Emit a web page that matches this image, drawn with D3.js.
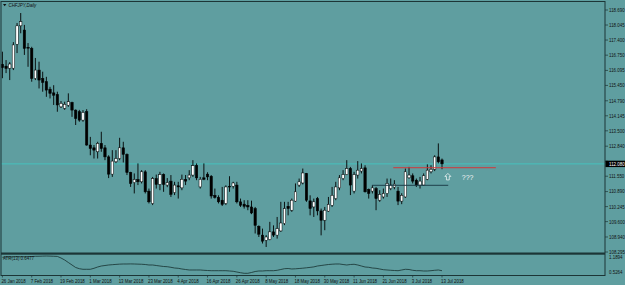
<!DOCTYPE html>
<html lang="en">
<head>
<meta charset="utf-8">
<title>CHFJPY Daily</title>
<script src="https://d3js.org/d3.v7.min.js"></script>
<style>
  body { margin: 0; background: #5f9ea0; }
  text { font-family: "Liberation Sans", Arial, sans-serif; font-size: 5.4px; fill: #111; }
</style>
</head>
<body>
<script>
// daily candles, 26 Jan 2018 .. 13 Jul 2018
var open = [116.36,116.28,116.19,116.19,117.22,118.01,117.83,117.09,117.04,115.75,
116.11,115.75,115.61,115.29,115.13,115.06,114.53,114.47,114.60,114.72,
114.39,114.32,113.96,114.32,112.89,112.77,112.60,112.96,112.77,112.38,
111.64,112.17,112.31,112.77,112.49,111.71,111.28,111.41,111.31,111.74,
110.91,110.38,111.45,111.20,111.62,111.17,111.34,110.85,111.14,111.05,
111.41,111.48,111.60,112.00,111.09,111.48,111.64,111.55,110.73,110.64,
110.52,110.38,111.12,111.12,111.17,110.45,110.35,110.30,110.23,110.16,
109.40,109.02,108.80,108.83,109.16,109.02,109.20,109.52,110.26,110.09,
110.48,111.17,111.26,111.67,110.49,110.23,110.59,110.06,109.66,110.05,
110.30,110.59,111.05,111.45,111.62,111.88,110.91,111.60,111.77,111.91,
110.98,110.91,111.02,110.52,110.66,110.81,111.02,111.08,110.91,110.48,
110.66,111.48,111.57,111.38,111.17,111.17,111.42,111.74,111.85,112.38,
112.25];
var high = [116.90,116.54,116.45,117.31,118.13,118.56,118.05,117.27,117.11,116.63,
116.47,116.04,115.82,115.39,115.46,115.18,114.78,114.75,115.11,114.75,
114.42,114.40,114.39,114.43,113.24,112.89,113.03,113.46,112.89,112.45,
112.67,112.67,113.20,113.03,112.53,111.74,111.67,112.10,111.81,111.81,
111.02,111.52,111.62,111.74,111.67,111.47,111.60,111.31,111.31,111.62,
111.60,111.81,112.24,112.10,111.52,112.10,111.72,111.60,111.02,110.73,
111.09,111.16,111.55,111.31,111.31,110.59,110.52,110.52,110.50,110.23,
109.44,109.30,109.02,109.59,109.44,109.80,110.45,110.45,110.45,110.59,
111.24,111.45,111.88,111.69,110.73,110.59,110.66,110.16,110.23,110.66,
111.09,111.31,111.60,111.81,112.24,111.95,111.74,112.20,112.10,112.02,
111.02,111.17,111.09,110.95,111.02,111.45,111.45,111.38,111.09,110.82,
111.88,111.95,111.67,111.45,111.52,111.67,112.06,112.02,112.45,112.96,
112.31];
var low = [115.76,115.98,115.68,116.11,116.84,117.69,116.76,116.25,115.61,115.68,
115.32,115.18,114.96,114.89,114.61,114.32,114.48,114.40,114.53,114.10,
113.75,113.89,113.89,112.86,112.45,112.31,112.31,112.60,112.24,111.47,
111.52,112.11,112.24,112.14,111.60,111.09,110.81,111.17,111.24,110.81,
110.38,110.31,111.02,110.95,110.88,111.08,110.66,110.74,110.59,110.95,
111.17,111.38,111.52,111.38,111.02,111.38,111.38,110.59,110.59,110.38,
110.27,110.31,110.88,111.02,110.38,110.23,110.16,110.09,109.92,109.09,
108.94,108.66,108.51,108.80,108.94,108.87,109.16,109.45,109.87,110.02,
110.45,111.09,111.20,110.45,109.87,109.80,109.87,109.01,109.23,110.02,
110.23,110.52,110.95,111.38,111.60,110.74,110.81,111.45,111.67,110.85,
110.59,110.81,110.09,110.45,110.59,110.66,110.95,110.99,110.31,110.35,
110.62,111.45,111.24,111.09,111.02,111.14,111.38,111.67,111.77,112.10,
111.85];
var close = [116.21,116.18,116.37,117.19,118.01,118.19,117.04,117.05,115.75,116.11,
115.68,115.58,115.25,115.11,115.03,114.61,114.68,114.64,114.75,114.39,
114.03,113.96,114.29,112.89,112.74,112.67,112.96,112.74,112.38,111.64,
112.20,112.31,112.77,112.49,111.71,111.24,111.41,111.31,111.74,110.88,
110.45,111.45,111.20,111.62,111.20,111.28,110.77,111.17,111.09,111.42,
111.34,111.60,112.00,111.48,111.42,111.42,111.52,110.70,110.64,110.45,
110.34,111.09,111.09,111.26,110.45,110.30,110.26,110.23,109.97,109.44,
109.06,108.76,108.94,109.16,109.02,109.30,109.54,110.16,110.16,110.52,
110.88,111.31,111.69,110.52,110.16,110.45,110.06,109.66,110.09,110.34,
110.73,111.09,111.48,111.62,111.88,111.17,111.62,111.81,111.88,110.88,
110.81,111.05,110.59,110.77,110.81,111.24,111.17,111.21,110.48,110.73,
111.74,111.60,111.34,111.17,111.34,111.57,111.81,111.85,112.38,112.17,
112.08];

// ATR(13) per bar
var atr = [1.142,1.153,1.153,1.160,1.164,1.164,1.164,1.164,1.170,1.178,
1.180,1.185,1.189,1.185,1.180,1.175,1.116,1.042,0.950,0.858,
0.766,0.722,0.700,0.700,0.700,0.736,0.784,0.821,0.839,0.858,
0.869,0.880,0.890,0.895,0.895,0.898,0.895,0.890,0.885,0.876,
0.858,0.858,0.839,0.821,0.803,0.795,0.773,0.747,0.736,0.711,
0.692,0.674,0.674,0.674,0.674,0.663,0.655,0.648,0.648,0.648,
0.648,0.648,0.637,0.626,0.600,0.574,0.552,0.552,0.582,0.618,
0.637,0.637,0.648,0.648,0.648,0.663,0.692,0.722,0.729,0.711,
0.718,0.729,0.740,0.755,0.770,0.788,0.821,0.839,0.858,0.876,
0.887,0.895,0.895,0.876,0.858,0.876,0.884,0.858,0.821,0.784,
0.773,0.747,0.736,0.711,0.685,0.674,0.663,0.655,0.648,0.674,
0.700,0.692,0.663,0.648,0.648,0.637,0.637,0.648,0.663,0.674,
0.648];

var dateLabels = ["26 Jan 2018","7 Feb 2018","19 Feb 2018","1 Mar 2018","13 Mar 2018",
  "23 Mar 2018","4 Apr 2018","16 Apr 2018","26 Apr 2018","8 May 2018","18 May 2018",
  "30 May 2018","11 Jun 2018","21 Jun 2018","3 Jul 2018","13 Jul 2018"];
var labelEvery = 8;

// the 112.195 level sits under the last-price box, so it only gets a tick
var priceTicks = [118.690,118.045,117.400,116.750,116.095,115.450,114.790,114.145,113.500,
  112.840,112.195,111.550,110.890,110.245,109.600,108.940,108.295];
var lastPrice = 112.080;
var atrMax = 1.1894, atrMin = 0.5264;

// drawn objects: horizontal lines (bar index from/to, price) and the arrow note
var hlineFrom = [106.7, 100.9];
var hlineTo = [134.7, 121.7];
var hlinePrice = [111.915, 111.16];
var hlineColor = ["#d0383a", "#1d3f4a"];
var arrowBar = 121.6, arrowPrice = 111.52;
var noteBar = 125.4, notePrice = 111.50;

var W = 625, H = 285;
var left = 1, right = 605, mainTop = 1, mainBottom = 253, subTop = 255, subBottom = 275;
var frame = "#1c3536";

var svg = d3.select("body").append("svg")
  .attr("width", W).attr("height", H);

svg.append("rect").attr("width", W).attr("height", H).attr("fill", "#5f9ea0");

var x = d3.scaleLinear().domain([0, 120]).range([2.4, 442]);
var y = d3.scaleLinear().domain([108.295, 118.690]).range([252, 10]);
var ya = d3.scaleLinear().domain([atrMin, atrMax]).range([274, 256]);

function txt(s, px, py, anchor) {
  return svg.append("text")
    .attr("transform", "translate(" + px + "," + py + ") scale(0.82,1)")
    .attr("text-anchor", anchor || "start")
    .text(s);
}

// bid line
svg.append("line")
  .attr("x1", left).attr("x2", right)
  .attr("y1", y(lastPrice)).attr("y2", y(lastPrice))
  .attr("stroke", "#3fc9c4").attr("stroke-width", 0.8);

// candles
var idx = d3.range(open.length);
var candle = svg.append("g").selectAll("g")
  .data(idx)
  .enter()
  .append("g");

candle.append("line")
  .attr("x1", function(i) { return x(i); })
  .attr("x2", function(i) { return x(i); })
  .attr("y1", function(i) { return y(high[i]); })
  .attr("y2", function(i) { return y(low[i]); })
  .attr("stroke", "#000").attr("stroke-width", 0.9);

candle.append("rect")
  .attr("x", function(i) { return x(i) - 1.2; })
  .attr("width", 2.4)
  .attr("y", function(i) { return y(Math.max(open[i], close[i])); })
  .attr("height", function(i) { return Math.max(0.8, Math.abs(y(open[i]) - y(close[i]))); })
  .attr("fill", function(i) { return close[i] >= open[i] ? "#fff" : "#000"; })
  .attr("stroke", "#000").attr("stroke-width", 0.5);

// horizontal line objects
svg.append("g").selectAll("line")
  .data(hlinePrice)
  .enter()
  .append("line")
  .attr("x1", function(d, i) { return x(hlineFrom[i]); })
  .attr("x2", function(d, i) { return x(hlineTo[i]); })
  .attr("y1", function(d) { return y(d); })
  .attr("y2", function(d) { return y(d); })
  .attr("stroke", function(d, i) { return hlineColor[i]; })
  .attr("stroke-width", 1);

// up arrow + note
var ax = x(arrowBar), ay = y(arrowPrice);
svg.append("path")
  .attr("d", "M" + ax + "," + (ay - 3.5) + " l3,3 h-1.6 v3.5 h-2.8 v-3.5 h-1.6 z")
  .attr("fill", "none").attr("stroke", "#fff").attr("stroke-width", 0.7);
svg.append("text")
  .attr("x", x(noteBar)).attr("y", y(notePrice) + 2.5)
  .style("font-size", "7px").style("fill", "#f4f4f4")
  .text("???");

// ATR line
svg.append("path")
  .datum(atr)
  .attr("d", d3.line().x(function(d, i) { return x(i); }).y(function(d) { return ya(d); }))
  .attr("fill", "none").attr("stroke", "#15302f").attr("stroke-width", 0.8);

// frame
svg.append("rect").attr("x", left).attr("y", mainTop + 0.5)
  .attr("width", right - left).attr("height", subBottom - mainTop)
  .attr("fill", "none").attr("stroke", frame).attr("stroke-width", 1);
svg.append("rect").attr("x", left).attr("y", mainBottom - 0.5)
  .attr("width", right - left).attr("height", 2.2).attr("fill", frame);

// price axis
priceTicks.forEach(function(v) {
  svg.append("line").attr("x1", right).attr("x2", right + 3)
    .attr("y1", y(v)).attr("y2", y(v)).attr("stroke", frame).attr("stroke-width", 0.7);
  if (Math.abs(y(v) - y(lastPrice)) > 5) txt(v.toFixed(3), right + 4, y(v) + 1.9);
});

// last price box
svg.append("rect").attr("x", right + 0.5).attr("y", y(lastPrice) - 3.2)
  .attr("width", W - right).attr("height", 6.4).attr("fill", "#000");
txt(lastPrice.toFixed(3), right + 4, y(lastPrice) + 1.9).style("fill", "#fff");

// atr scale
txt(atrMax.toFixed(4), right + 4, 259.4);
txt(atrMin.toFixed(4), right + 4, 274);

// dates
dateLabels.forEach(function(s, k) {
  var px = x(k * labelEvery);
  svg.append("line").attr("x1", px).attr("x2", px)
    .attr("y1", subBottom).attr("y2", subBottom + 2.5)
    .attr("stroke", frame).attr("stroke-width", 0.7);
  txt(s, px - 1, 282.5);
});

// window captions
svg.append("path").attr("d", "M3,4 h3.4 l-1.7,2.2 z").attr("fill", "#111");
txt("CHFJPY,Daily", 8.5, 7).style("font-style", "italic");
txt("ATR(13) 0.6477", 3, 260);
</script>
</body>
</html>
